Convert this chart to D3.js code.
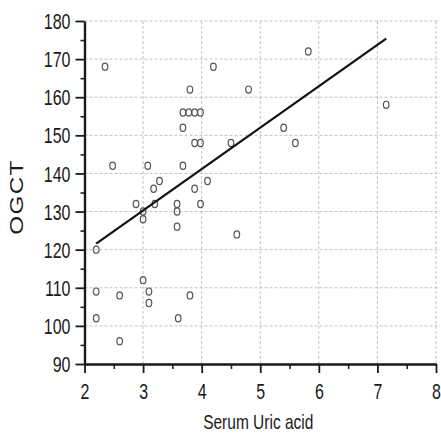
<!DOCTYPE html>
<html>
<head>
<meta charset="utf-8">
<script src="https://cdn.jsdelivr.net/npm/d3@7"></script>
<style>
  html, body { margin: 0; padding: 0; background: #fff; }
  svg { display: block; }
  text { font-family: "Liberation Sans", Arial, sans-serif; fill: #1a1a1a; }
</style>
</head>
<body>
<svg id="chart" width="441" height="433"></svg>
<script>
// ---- data ----
const uricAcid = [2.35, 2.48, 4.2, 3.8, 3.68, 3.78, 3.88, 3.98, 3.68, 3.88, 3.98, 3.68, 3.08, 3.28, 3.18,
                  3.88, 4.1, 2.88, 3.2, 3.58, 3.98, 3.0, 3.0, 3.58, 3.58, 2.2, 2.2, 2.6, 3.0, 3.1,
                  3.1, 3.8, 2.2, 3.6, 2.6, 5.82, 4.8, 7.15, 5.4, 5.6, 4.5, 4.6];
const ogct     = [168, 142, 168, 162, 156, 156, 156, 156, 152, 148, 148, 142, 142, 138, 136,
                  136, 138, 132, 132, 132, 132, 130, 128, 130, 126, 120, 109, 108, 112, 109,
                  106, 108, 102, 102, 96, 172, 162, 158, 152, 148, 148, 124];
const fitX = [2.2, 7.15];
const fitY = [121.6, 175.4];
const xTicks = [2, 3, 4, 5, 6, 7, 8];
const yTicks = [90, 100, 110, 120, 130, 140, 150, 160, 170, 180];
const xLabel = "Serum Uric acid";
const yLabel = "OGCT";

// ---- layout ----
const svg = d3.select("#chart");
const pLeft = 84.5, pRight = 436, pTop = 21, pBottom = 364;
const SY = 1.35; // vertical glyph stretch of the reference

const x = d3.scaleLinear().domain([2, 8]).range([pLeft, pRight]);
const y = d3.scaleLinear().domain([90, 180]).range([pBottom, pTop]);

// grid
const grid = svg.append("g").attr("stroke", "#c2c2c2").attr("stroke-width", 1)
  .attr("stroke-dasharray", "3,2").attr("fill", "none");
grid.selectAll("line.h").data(yTicks.slice(1)).join("line")
  .attr("x1", pLeft).attr("x2", 440)
  .attr("y1", d => y(d)).attr("y2", d => y(d));
grid.selectAll("line.v").data(xTicks.slice(1)).join("line")
  .attr("x1", d => x(d)).attr("x2", d => x(d))
  .attr("y1", pBottom).attr("y2", pTop - 2);

// minor ticks
svg.append("g").attr("transform", `translate(${pLeft},0)`)
  .call(d3.axisLeft(y).tickValues(d3.range(95, 180, 10)).tickSize(4).tickFormat(""))
  .call(g => g.select(".domain").remove())
  .selectAll("line").attr("stroke", "#222").attr("stroke-width", 1.6);
svg.append("g").attr("transform", `translate(0,${pBottom})`)
  .call(d3.axisBottom(x).tickValues(d3.range(2.5, 8, 1)).tickSize(5).tickFormat(""))
  .call(g => g.select(".domain").remove())
  .selectAll("line").attr("stroke", "#222").attr("stroke-width", 1.6);

// y axis
const yAxis = svg.append("g").attr("transform", `translate(${pLeft},0)`)
  .call(d3.axisLeft(y).tickValues(yTicks).tickFormat(d3.format("d")).tickSize(9).tickSizeOuter(0));
yAxis.select(".domain").attr("stroke", "#1a1a1a").attr("stroke-width", 2.4);
yAxis.selectAll(".tick line").attr("stroke", "#1a1a1a").attr("stroke-width", 1.8);
yAxis.selectAll(".tick text")
  .attr("x", -14).attr("y", 0).attr("dy", "0.35em")
  .attr("transform", `scale(1,${SY})`)
  .style("font-size", "16px").style("font-family", "'Liberation Sans', Arial, sans-serif")
  .attr("fill", "#1a1a1a");

// x axis
const xAxis = svg.append("g").attr("transform", `translate(0,${pBottom})`)
  .call(d3.axisBottom(x).tickValues(xTicks).tickFormat(d3.format("d")).tickSize(9).tickSizeOuter(0));
xAxis.select(".domain").attr("stroke", "#1a1a1a").attr("stroke-width", 2.4);
xAxis.selectAll(".tick line").attr("stroke", "#1a1a1a").attr("stroke-width", 1.8);
xAxis.selectAll(".tick text")
  .attr("y", 0).attr("dy", null)
  .attr("transform", `translate(0,35) scale(1,${SY})`)
  .style("font-size", "16px").style("font-family", "'Liberation Sans', Arial, sans-serif")
  .attr("fill", "#1a1a1a");

// axis titles
svg.append("text")
  .attr("transform", `translate(${(pLeft + pRight) / 2 - 2},429) scale(1,${SY})`)
  .attr("text-anchor", "middle").style("font-size", "15.5px")
  .text(xLabel);
svg.append("text")
  .attr("transform", `translate(23,197) rotate(-90) scale(${SY},1)`)
  .attr("text-anchor", "middle").style("font-size", "18px")
  .style("letter-spacing", "1px")
  .text(yLabel);

// points
const pts = uricAcid.map((v, i) => ({ x: v, y: ogct[i] }));
svg.append("g").selectAll("ellipse").data(pts).join("ellipse")
  .attr("cx", d => x(d.x)).attr("cy", d => y(d.y))
  .attr("rx", 2.8).attr("ry", 3.6)
  .attr("fill", "none").attr("stroke", "#555").attr("stroke-width", 1.2);

// regression line
const line = d3.line().x(d => x(d[0])).y(d => y(d[1]));
svg.append("path").datum(fitX.map((v, i) => [v, fitY[i]]))
  .attr("d", line).attr("fill", "none").attr("stroke", "#111").attr("stroke-width", 2.2);
</script>
</body>
</html>
